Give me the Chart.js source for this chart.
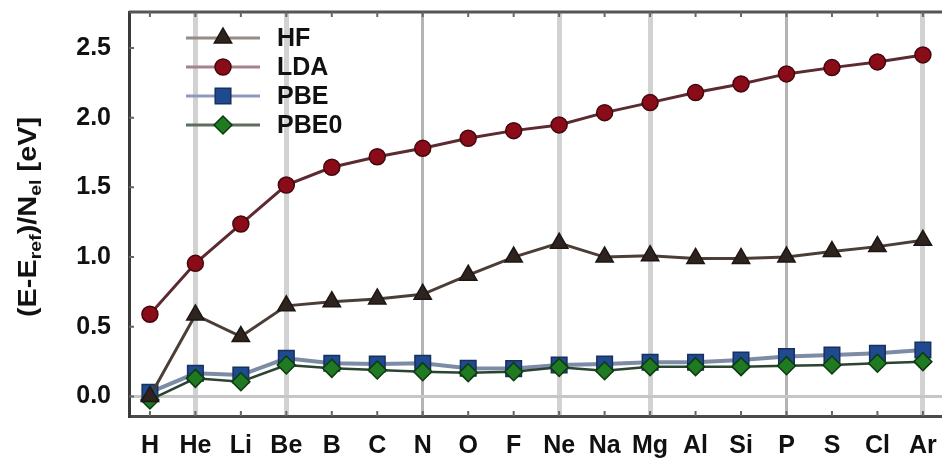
<!DOCTYPE html>
<html>
<head>
<meta charset="utf-8">
<script src="https://cdn.jsdelivr.net/npm/chart.js@4.4.0/dist/chart.umd.min.js"></script>
<style>
  html, body { margin: 0; padding: 0; background: #fff; overflow: hidden; }
</style>
</head>
<body>
<canvas id="chart" width="942" height="459"></canvas>
<script>
// atoms along the x axis
const elements = ['H', 'He', 'Li', 'Be', 'B', 'C', 'N', 'O', 'F', 'Ne', 'Na', 'Mg', 'Al', 'Si', 'P', 'S', 'Cl', 'Ar']

// (E - E_ref) / N_el in eV for each method
const hf = [0.00, 0.585, 0.43, 0.65, 0.68, 0.70, 0.733, 0.87, 1.00, 1.10, 1.00, 1.01, 0.99, 0.99, 1.00, 1.04, 1.075, 1.12]
const lda = [0.59, 0.955, 1.237, 1.517, 1.644, 1.72, 1.78, 1.852, 1.907, 1.948, 2.036, 2.108, 2.18, 2.242, 2.314, 2.359, 2.40, 2.45]
const pbe = [0.03, 0.166, 0.154, 0.274, 0.238, 0.233, 0.238, 0.202, 0.20, 0.226, 0.233, 0.245, 0.245, 0.262, 0.286, 0.298, 0.31, 0.334]
const pbe0 = [-0.025, 0.13, 0.106, 0.226, 0.202, 0.19, 0.178, 0.171, 0.178, 0.209, 0.185, 0.214, 0.214, 0.214, 0.221, 0.226, 0.238, 0.25]

const yTicks = [0, 0.5, 1.0, 1.5, 2.0, 2.5]

// closed shells get a wide pale guide line, half-filled shells a thin one
const closedShell = ['He', 'Be', 'Ne', 'Mg', 'Ar']
const halfFilled = ['N', 'P']

const FONT = 'bold 25px "Liberation Sans", Arial, sans-serif'

const toPoints = (arr) => arr.map((v, i) => ({ x: i, y: v }))

// frame: top border plus inward tick marks
const framePlugin = {
    id: 'frame',
    beforeDatasetsDraw(chart) {
        const { ctx, chartArea: a, scales } = chart
        ctx.save()
        ctx.strokeStyle = '#555'
        ctx.lineWidth = 3
        ctx.beginPath()
        ctx.moveTo(a.left, a.top)
        ctx.lineTo(a.right, a.top)
        ctx.stroke()
        ctx.lineWidth = 2
        ctx.strokeStyle = '#666'
        ctx.beginPath()
        elements.forEach((el, i) => {
            const x = scales.x.getPixelForValue(i)
            ctx.moveTo(x, a.top); ctx.lineTo(x, a.top + 5)
            ctx.moveTo(x, a.bottom); ctx.lineTo(x, a.bottom - 5)
        })
        yTicks.forEach((v) => {
            const y = scales.y.getPixelForValue(v)
            ctx.moveTo(a.left, y); ctx.lineTo(a.left + 5, y)
        })
        ctx.stroke()
        ctx.restore()
    }
}

// rotated y title with subscripts
const yTitlePlugin = {
    id: 'yTitle',
    afterDraw(chart) {
        const { ctx } = chart
        const parts = [['(E-E', false], ['ref', true], [')/N', false], ['el', true], [' [eV]', false]]
        const subFont = 'bold 17px "Liberation Sans", Arial, sans-serif'
        ctx.save()
        let total = 0
        parts.forEach(([t, sub]) => {
            ctx.font = sub ? subFont : FONT
            total += ctx.measureText(t).width
        })
        ctx.translate(29, 217)
        ctx.rotate(-Math.PI / 2)
        ctx.scale(200 / total, 1)
        ctx.fillStyle = '#111'
        ctx.textBaseline = 'middle'
        let x = -total / 2
        parts.forEach(([t, sub]) => {
            ctx.font = sub ? subFont : FONT
            ctx.fillText(t, x, sub ? 7 : 0)
            x += ctx.measureText(t).width
        })
        ctx.restore()
    }
}

// legend: line segment with marker, then the label
const legendPlugin = {
    id: 'lineLegend',
    afterDraw(chart) {
        const { ctx } = chart
        ctx.save()
        chart.data.datasets.forEach((ds, i) => {
            const y = 38 + 29 * i
            ctx.strokeStyle = ds.legendColor
            ctx.lineWidth = 3
            ctx.beginPath()
            ctx.moveTo(186, y)
            ctx.lineTo(260, y)
            ctx.stroke()
            ctx.fillStyle = ds.pointBackgroundColor
            ctx.strokeStyle = ds.pointBorderColor
            ctx.lineWidth = 1.5
            Chart.helpers.drawPoint(ctx, { pointStyle: ds.pointStyle, radius: ds.pointRadius, rotation: 0, borderWidth: 1.5 }, 223, y)
            ctx.fillStyle = '#111'
            ctx.font = FONT
            ctx.textBaseline = 'middle'
            ctx.fillText(ds.label, 277, y + 1)
        })
        ctx.restore()
    }
}

new Chart(document.getElementById('chart'), {
    type: 'line',
    data: {
        datasets: [
            {
                label: 'HF', data: toPoints(hf), order: 0,
                borderColor: '#4b3e37', borderWidth: 3, legendColor: '#968b85',
                pointStyle: 'triangle', pointRadius: 10,
                pointBackgroundColor: '#2e241f', pointBorderColor: '#1e1612', pointBorderWidth: 1.5
            },
            {
                label: 'LDA', data: toPoints(lda), order: 1,
                borderColor: '#5c2a31', borderWidth: 3, legendColor: '#a8828a',
                pointStyle: 'circle', pointRadius: 8,
                pointBackgroundColor: '#8a0c18', pointBorderColor: '#45070d', pointBorderWidth: 1.5
            },
            {
                label: 'PBE', data: toPoints(pbe), order: 3,
                borderColor: '#7d8ca6', borderWidth: 4, legendColor: '#8b9bbd',
                pointStyle: 'rect', pointRadius: 11,
                pointBackgroundColor: '#1f4a8f', pointBorderColor: '#17305c', pointBorderWidth: 1.5
            },
            {
                label: 'PBE0', data: toPoints(pbe0), order: 2,
                borderColor: '#2a4431', borderWidth: 2.5, legendColor: '#5d6e5f',
                pointStyle: 'rectRot', pointRadius: 9,
                pointBackgroundColor: '#1f7a22', pointBorderColor: '#0e3a10', pointBorderWidth: 1.5
            }
        ]
    },
    options: {
        responsive: false,
        animation: false,
        layout: { autoPadding: false, padding: { left: 0, top: 12, right: 0, bottom: 0 } },
        plugins: { legend: { display: false }, tooltip: { enabled: false } },
        scales: {
            x: {
                type: 'linear',
                min: -0.46,
                max: 17.42,
                afterBuildTicks: (s) => { s.ticks = elements.map((_, i) => ({ value: i })) },
                afterFit: (s) => { s.height = 43; s.paddingLeft = 0; s.paddingRight = 0 },
                ticks: {
                    callback: (v) => elements[v],
                    font: { family: '"Liberation Sans", Arial, sans-serif', size: 25, weight: 'bold' },
                    color: '#111',
                    padding: 15,
                    maxRotation: 0,
                    autoSkip: false
                },
                grid: {
                    drawTicks: false,
                    color: (c) => {
                        const el = elements[c.tick.value]
                        if (closedShell.includes(el)) return '#d2d2d2'
                        if (halfFilled.includes(el)) return '#b4b4b4'
                        return 'rgba(0,0,0,0)'
                    },
                    lineWidth: (c) => closedShell.includes(elements[c.tick.value]) ? 5 : 3
                },
                border: { display: true, color: '#4a4a4a', width: 3 }
            },
            y: {
                min: -0.14,
                max: 2.758,
                afterBuildTicks: (s) => { s.ticks = yTicks.map((v) => ({ value: v })) },
                afterFit: (s) => { s.width = 129; s.paddingTop = 0; s.paddingBottom = 0 },
                ticks: {
                    callback: (v) => v.toFixed(1),
                    font: { family: '"Liberation Sans", Arial, sans-serif', size: 25, weight: 'bold' },
                    color: '#111',
                    padding: 18
                },
                grid: {
                    drawTicks: false,
                    color: (c) => c.tick.value === 0 ? '#c6c6c6' : 'rgba(0,0,0,0)',
                    lineWidth: 3
                },
                border: { display: true, color: '#3a3a3a', width: 3 }
            }
        }
    },
    plugins: [framePlugin, yTitlePlugin, legendPlugin]
})
</script>
</body>
</html>
